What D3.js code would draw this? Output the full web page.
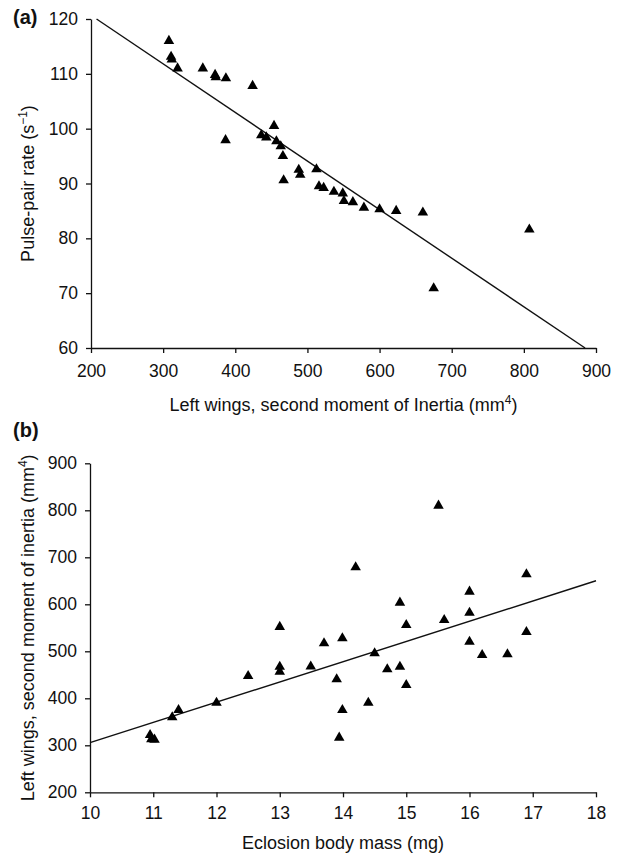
<!DOCTYPE html>
<html>
<head>
<meta charset="utf-8">
<script src="https://cdn.jsdelivr.net/npm/d3@7"></script>
<style>
  body { margin: 0; background: #fff; }
  svg { display: block; font-family: "Liberation Sans", Arial, sans-serif; }
  .axis path, .axis line { stroke: #111; stroke-width: 1.3; }
  .axis text { font-size: 17.5px; fill: #111; font-family: "Liberation Sans", Arial, sans-serif; }
  .title { font-size: 18px; fill: #111; }
</style>
</head>
<body>
<svg id="chart" width="621" height="857"></svg>
<script>
// panel (a): wing inertia (mm^4) vs pulse-pair rate (s^-1)
const inertiaA = [308, 311, 312, 320, 355, 372, 373, 387, 424, 386.5, 453.7, 436, 443, 457, 463, 466,
  467, 488, 490, 512.5, 516, 522.5, 536.7, 549, 550.6, 563, 578.3, 600, 623, 660, 807.6, 675];
const pulseRate = [116, 113.1, 112.6, 111, 111, 109.8, 109.4, 109.2, 107.8, 97.9, 100.5, 98.8, 98.4, 97.7, 96.8, 95.0,
  90.6, 92.5, 91.6, 92.6, 89.5, 89.2, 88.5, 88.2, 86.8, 86.6, 85.6, 85.3, 85.0, 84.7, 81.6, 70.9];
const fitA = { slope: -0.0886, intercept: 138.4 };
const xTicksA = [200, 300, 400, 500, 600, 700, 800, 900];
const yTicksA = [60, 70, 80, 90, 100, 110, 120];

// panel (b): eclosion body mass (mg) vs wing inertia (mm^4)
const massMg = [10.95, 10.97, 11.02, 11.3, 11.4, 12.0, 12.5, 13.0, 13.0, 13.0, 13.49, 13.7, 13.99, 13.9, 13.99, 13.94,
  14.2, 14.4, 14.5, 14.7, 14.9, 14.9, 15.0, 15.0, 15.51, 15.6, 16.0, 16.0, 16.0, 16.2, 16.6, 16.9, 16.9];
const inertiaB = [322, 313, 312, 359.5, 375, 390.6, 447.5, 552, 467, 456.6, 467.5, 517, 527.7, 440.4, 375, 316.2,
  678.7, 390.6, 495.7, 461.7, 467, 603.4, 556, 428.3, 810, 566.6, 626.8, 582, 520.4, 492, 493.6, 663.8, 541];
const fitB = { slope: 43.06, intercept: -125.0 };
const xTicksB = [10, 11, 12, 13, 14, 15, 16, 17, 18];
const yTicksB = [200, 300, 400, 500, 600, 700, 800, 900];

const svg = d3.select("#chart");
const tri = d3.symbol().type(d3.symbolTriangle).size(48);

function panel(opts) {
  const x = d3.scaleLinear().domain(opts.xDomain).range(opts.xRange);
  const y = d3.scaleLinear().domain(opts.yDomain).range(opts.yRange);
  const g = svg.append("g");

  g.append("g")
    .attr("class", "axis")
    .attr("transform", `translate(0,${opts.yRange[0]})`)
    .call(d3.axisBottom(x).tickValues(opts.xTicks).tickSizeInner(5).tickSizeOuter(0)
      .tickPadding(opts.xPad).tickFormat(d3.format("d")));

  g.append("g")
    .attr("class", "axis")
    .attr("transform", `translate(${opts.xRange[0]},0)`)
    .call(d3.axisLeft(y).tickValues(opts.yTicks).tickSizeInner(5).tickSizeOuter(0)
      .tickPadding(8).tickFormat(d3.format("d")));

  g.selectAll(".axis .domain").attr("fill", "none");

  // regression line, clipped to the plotted y range
  const f = opts.fit;
  const [x0, x1] = opts.xDomain;
  const [ylo, yhi] = opts.yDomain;
  const clipX = (xv) => {
    const yv = f.slope * xv + f.intercept;
    if (yv > yhi) return (yhi - f.intercept) / f.slope;
    if (yv < ylo) return (ylo - f.intercept) / f.slope;
    return xv;
  };
  const ends = [clipX(x0), clipX(x1)].map(xv => [xv, f.slope * xv + f.intercept]);
  g.append("path")
    .attr("d", d3.line().x(d => x(d[0])).y(d => y(d[1]))(ends))
    .attr("fill", "none")
    .attr("stroke", "#111")
    .attr("stroke-width", 1.4);

  g.selectAll(".pt")
    .data(d3.zip(opts.xs, opts.ys))
    .enter().append("path")
      .attr("class", "pt")
      .attr("transform", d => `translate(${x(d[0])},${y(d[1])})`)
      .attr("d", tri)
      .attr("fill", "#000");

  // x title
  const xt = g.append("text")
    .attr("class", "title")
    .attr("text-anchor", "middle")
    .attr("x", (opts.xRange[0] + opts.xRange[1]) / 2)
    .attr("y", opts.xTitleY);
  xt.append("tspan").text(opts.xTitle[0]);
  if (opts.xTitle[1]) {
    xt.append("tspan").attr("dy", -7).attr("font-size", "12px").text(opts.xTitle[1]);
    xt.append("tspan").attr("dy", 7).text(opts.xTitle[2]);
  }

  // y title
  const yt = g.append("text")
    .attr("class", "title")
    .attr("text-anchor", "middle")
    .attr("transform", `translate(34,${(opts.yRange[0] + opts.yRange[1]) / 2}) rotate(-90)`);
  yt.append("tspan").text(opts.yTitle[0]);
  if (opts.yTitle[1]) {
    yt.append("tspan").attr("dy", -7).attr("font-size", "12px").text(opts.yTitle[1]);
    yt.append("tspan").attr("dy", 7).text(opts.yTitle[2]);
  }

  svg.append("text")
    .attr("x", 13)
    .attr("y", opts.tagY)
    .attr("font-size", "20px")
    .attr("font-weight", "bold")
    .attr("fill", "#111")
    .text(opts.tag);
}

panel({
  xs: inertiaA, ys: pulseRate, fit: fitA,
  xDomain: [200, 900], yDomain: [60, 120],
  xRange: [91, 596], yRange: [348, 19],
  xTicks: xTicksA, yTicks: yTicksA, xPad: 12,
  xTitle: ["Left wings, second moment of Inertia (mm", "4", ")"], xTitleY: 411,
  yTitle: ["Pulse-pair rate (s", "\u22121", ")"],
  tag: "(a)", tagY: 24
});

panel({
  xs: massMg, ys: inertiaB, fit: fitB,
  xDomain: [10, 18], yDomain: [200, 900],
  xRange: [90, 596], yRange: [792.3, 463.3],
  xTicks: xTicksB, yTicks: yTicksB, xPad: 9,
  xTitle: ["Eclosion body mass (mg)"], xTitleY: 849,
  yTitle: ["Left wings, second moment of inertia (mm", "4", ")"],
  tag: "(b)", tagY: 437
});
</script>
</body>
</html>
